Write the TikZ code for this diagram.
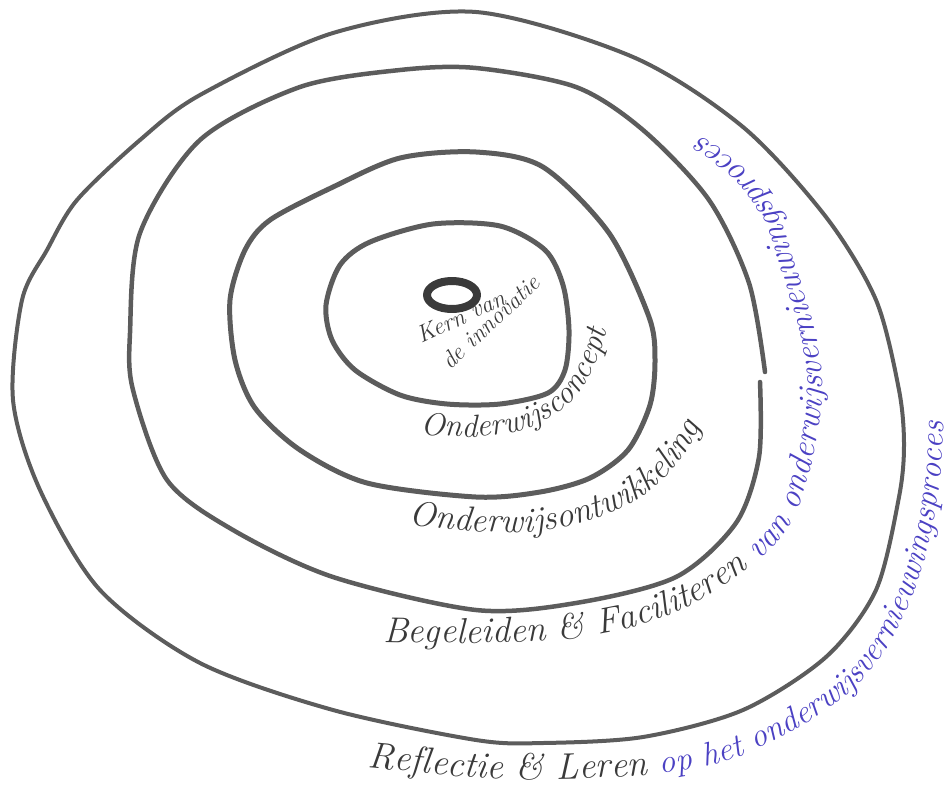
\documentclass[tikz,border=0pt]{standalone}
\usepackage{xcolor}
\usepackage{tikz}
\usetikzlibrary{decorations.text}
\definecolor{pencil}{RGB}{92,92,92}
\definecolor{ink}{RGB}{58,58,58}
\definecolor{bluepen}{RGB}{75,65,195}
\newcommand{\hand}[1]{\fontsize{#1}{#1}\selectfont\itshape}

\begin{document}
\begin{tikzpicture}[x=1pt,y=-1pt,
  ring/.style={draw=pencil,line width=4.5pt,line cap=round,line join=round},
  kerntext/.style={anchor=base west,inner sep=0pt,text=ink,font=\hand{24}},
  ringtext/.style={decorate,decoration={text along path,text align=left,text={#1}}}]
  \useasboundingbox (0,0) rectangle (952,787);
  % core
  \draw[ring,line width=8pt,draw=ink] (452,295) ellipse [x radius=25,y radius=14];
  \node[kerntext,rotate=25] (kern) at (421,344) {Kern van};
  \node[kerntext,rotate=43] (innovatie) at (450,371) {de innovatie};
  % rings, inside out
  \draw[ring,line width=5pt] plot[smooth cycle] coordinates {
    (326,305) (340,265) (370,242) (433,224) (500,226) (545,250) (563,285) (569,330)
    (565,370) (548,393) (500,404) (447,404) (400,395) (355,370) (332,340)};
  \draw[ring,line width=5pt] plot[smooth cycle] coordinates {
    (476,152) (543,167) (609,233) (649,317) (655,360) (650,405) (628,450) (590,478)
    (540,492) (476,497) (367,483) (300,450) (255,408) (235,360) (230,300) (245,250)
    (270,220) (333,187) (400,158)};
  \draw[ring] plot[smooth] coordinates {
    (760,382) (759,457) (736,523) (676,577) (576,603) (476,610) (333,577) (233,530)
    (167,480) (133,390) (130,333) (140,233) (200,140) (300,87) (400,70) (476,68)
    (576,87) (643,130) (709,200) (749,283) (765,372)};
  \draw[ring,line width=4pt] plot[smooth cycle] coordinates {
    (476,12) (633,57) (743,127) (826,217) (876,300) (899,390) (904,445) (899,497)
    (876,590) (826,657) (743,710) (643,737) (543,743) (476,740) (333,710) (200,663)
    (100,590) (40,490) (13,400) (22,300) (47,250) (77,200) (140,140) (200,95) (333,33)};
  % handwritten labels along the rings
  \path[ringtext={|\hand{32}\color{ink}|Onderwijsconcept}] plot[smooth] coordinates {
    (420,434) (470,437) (515,432) (550,418) (575,398) (592,372) (603,345) (610,315) (614,290)};
  \path[ringtext={|\hand{35}\color{ink}|Onderwijsontwikkeling}] plot[smooth] coordinates {
    (408,524) (470,531) (532,532) (578,524) (618,510) (654,488) (682,458) (700,427)
    (711,397) (716,370)};
  \path[ringtext={|\hand{36}\color{ink}|Begeleiden {\&} Faciliteren
      |\hand{34}\color{bluepen}|van onderwijsvernieuwingsproces}] plot[smooth] coordinates {
    (383,642) (470,643) (560,640) (630,628) (690,606) (735,578) (770,550) (795,515)
    (810,470) (820,420) (822,370) (812,320) (797,270) (778,215) (750,175) (715,145)
    (680,125) (650,115)};
  \path[ringtext={|\hand{37}\color{ink}|Reflectie {\&} Leren
      |\hand{33}\color{bluepen}|op het onderwijsvernieuwingsproces}] plot[smooth] coordinates {
    (367,767) (420,772) (480,778) (560,779) (650,775) (700,767) (742,756) (803,725)
    (855,688) (890,643) (914,592) (930,540) (939,490) (943,440) (944,385) (944,330)};
\end{tikzpicture}
\end{document}
